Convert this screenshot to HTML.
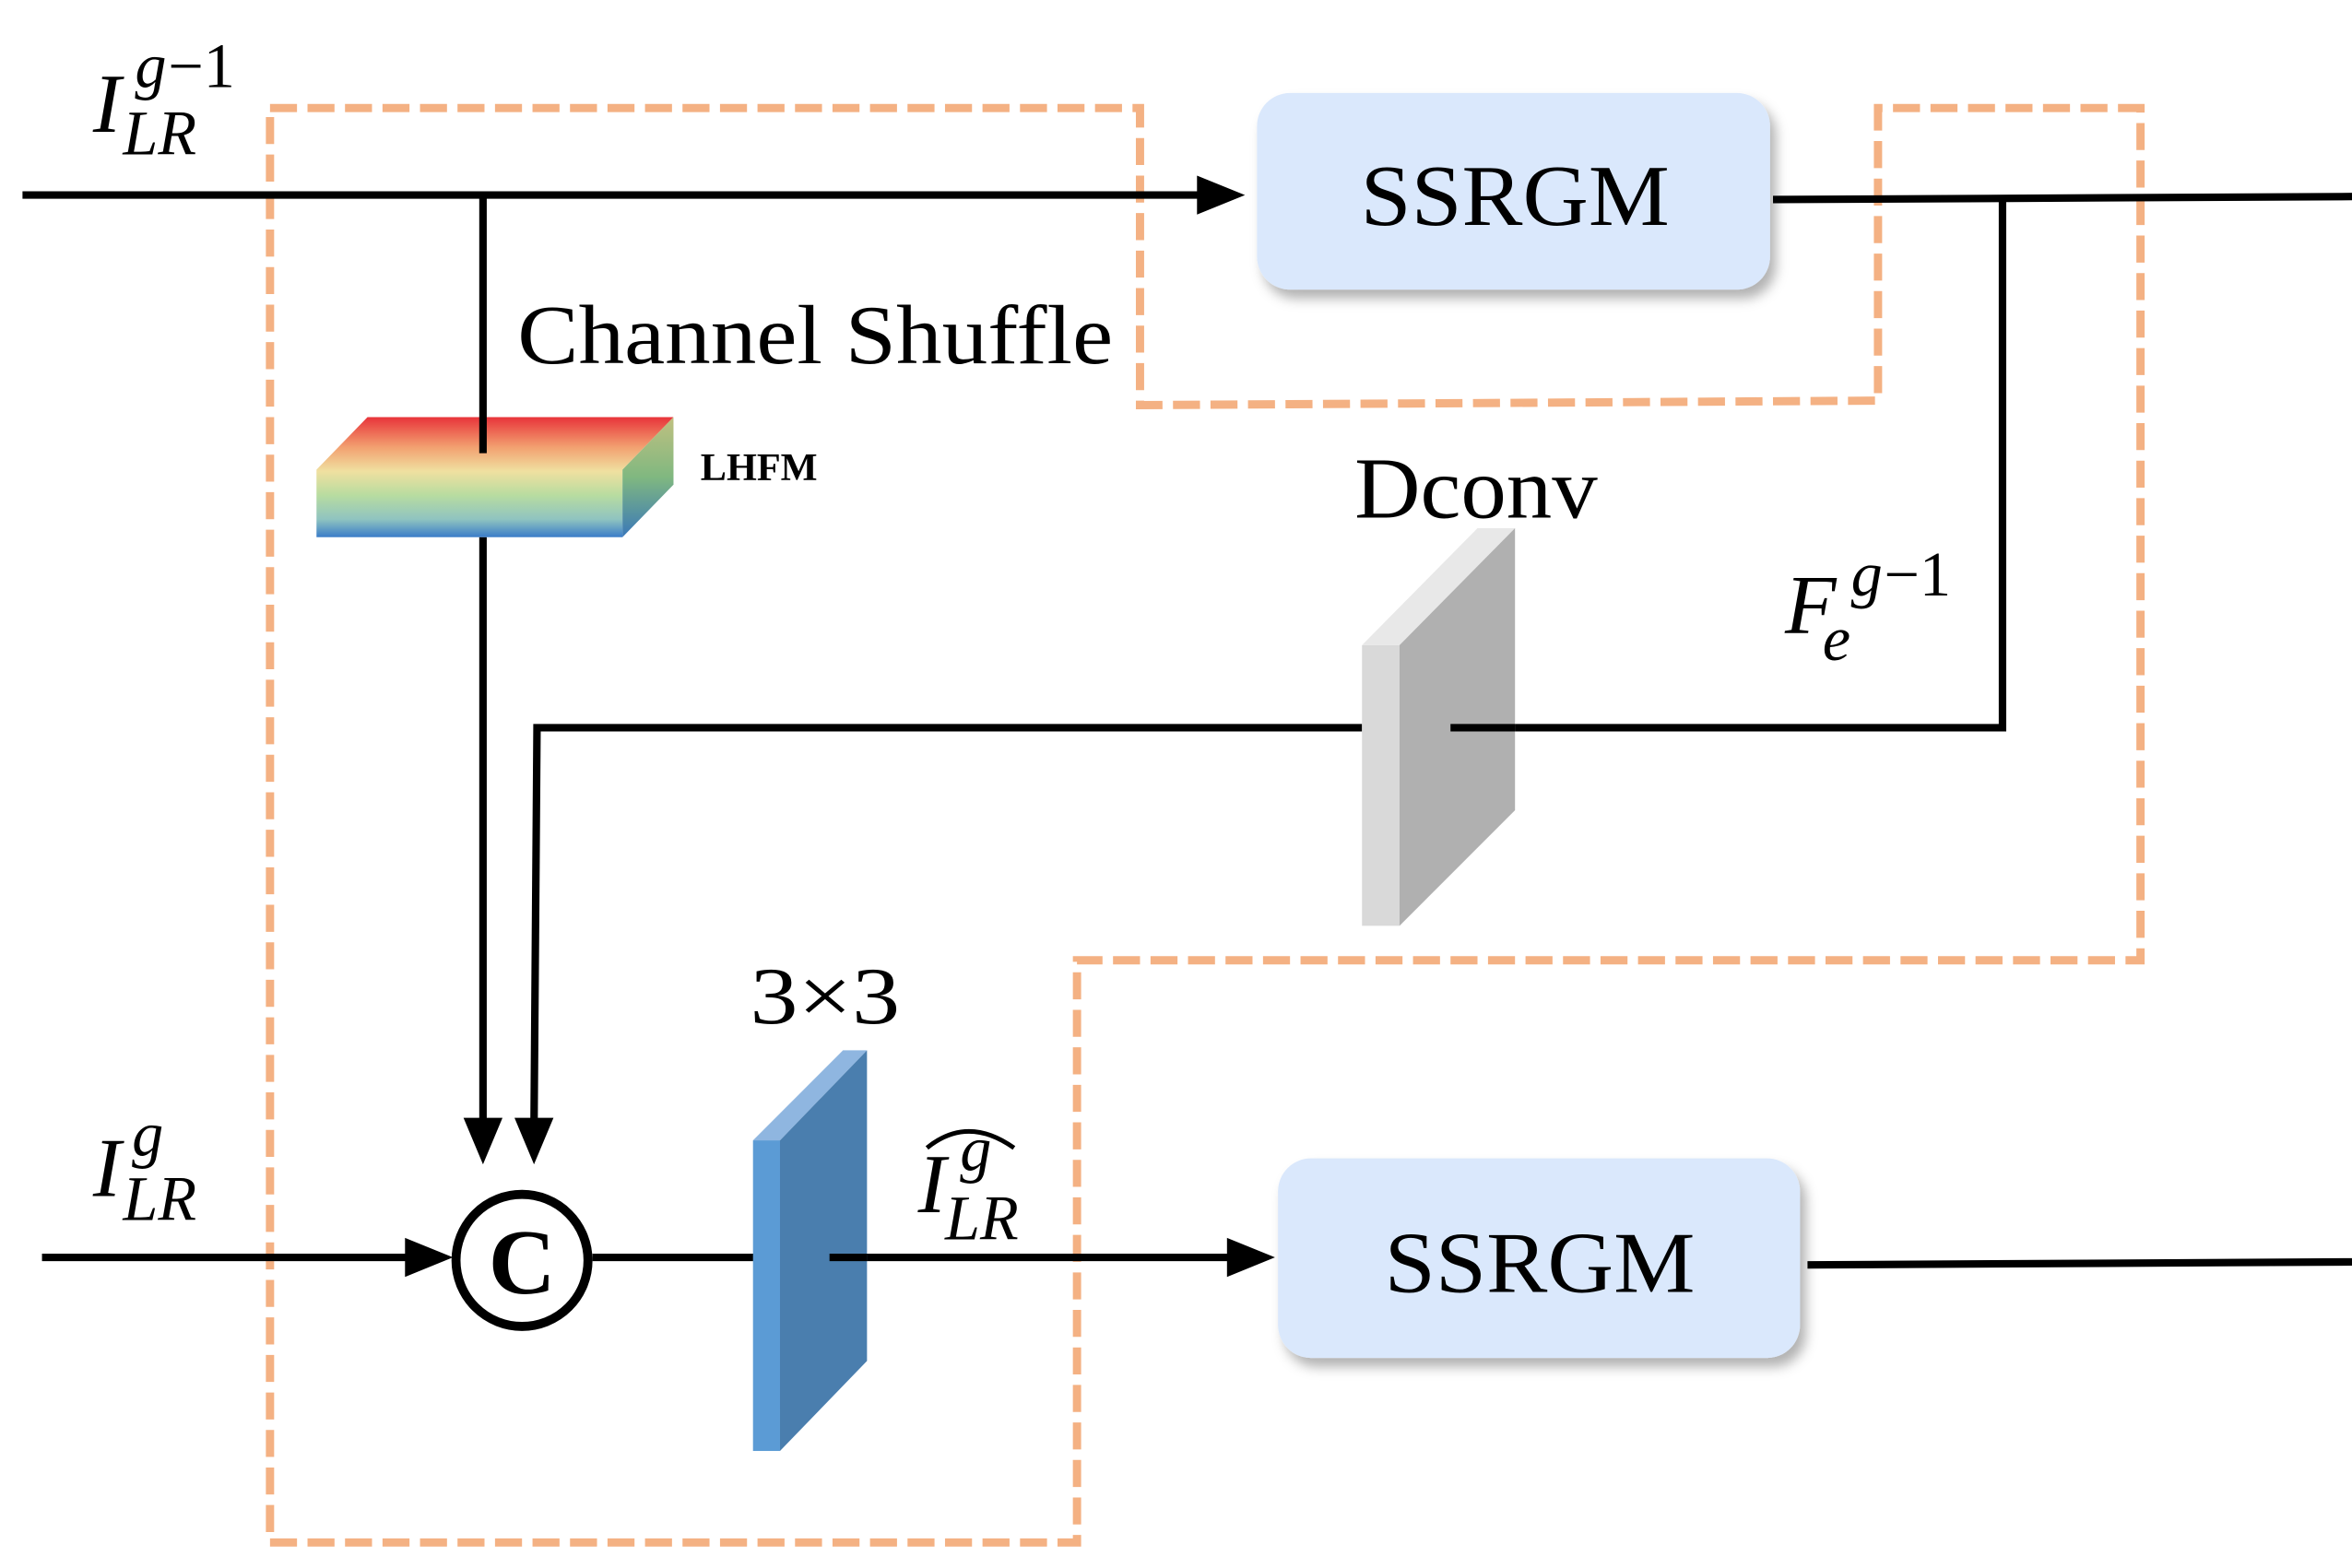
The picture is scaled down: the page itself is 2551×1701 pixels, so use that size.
<!DOCTYPE html>
<html><head><meta charset="utf-8"><style>html,body{margin:0;padding:0;background:#fff}svg{display:block}</style></head>
<body>
<svg width="2551" height="1701" viewBox="0 0 1568 1045" preserveAspectRatio="none" xmlns="http://www.w3.org/2000/svg" font-family="'Liberation Serif', serif">
<defs>
<linearGradient id="rb" gradientUnits="userSpaceOnUse" x1="0" y1="278" x2="0" y2="358">
<stop offset="0" stop-color="#e8343a"/><stop offset="0.25" stop-color="#f2a070"/><stop offset="0.45" stop-color="#f0e0a0"/><stop offset="0.65" stop-color="#b8dca0"/><stop offset="0.85" stop-color="#90c4c0"/><stop offset="1" stop-color="#3a7cc8"/></linearGradient>
<linearGradient id="rbs" gradientUnits="userSpaceOnUse" x1="0" y1="278" x2="0" y2="358">
<stop offset="0" stop-color="#c0c080"/><stop offset="0.5" stop-color="#80b880"/><stop offset="1" stop-color="#3a78b8"/></linearGradient>
<filter id="sh" x="-10%" y="-10%" width="130%" height="140%"><feDropShadow dx="4" dy="6" stdDeviation="4" flood-color="#000" flood-opacity="0.3"/></filter>
</defs>
<polygon points="180,72 760,72 760,270 1252,267 1252,72 1427,72 1427,640 718,640 718,1028 180,1028" fill="none" stroke="#f4b183" stroke-width="5.5" stroke-dasharray="18,7"/>
<g stroke="#000" stroke-width="5" fill="none">
<line x1="15" y1="130" x2="805" y2="130"/>
<line x1="1182" y1="133" x2="1568" y2="131"/>
<polyline points="1335,133 1335,485 967,485"/>
<polyline points="908,485 358,485 356,752"/>
<line x1="322" y1="358" x2="322" y2="752"/>
<line x1="28" y1="838" x2="275" y2="838"/>
<line x1="395" y1="838" x2="503" y2="838"/>
<line x1="553" y1="838" x2="822" y2="838"/>
<line x1="1205" y1="843" x2="1568" y2="841"/>
</g>
<g fill="#000">
<polygon points="798,117 830,130 798,143"/>
<polygon points="309,745 335,745 322,776"/>
<polygon points="343,745 369,745 356,776"/>
<polygon points="270,825 302,838 270,851"/>
<polygon points="818,825 850,838 818,851"/>
</g>
<rect x="838" y="62" width="342" height="131" rx="22" fill="#dae8fc" filter="url(#sh)"/>
<text x="907" y="150" font-size="58" textLength="206" lengthAdjust="spacingAndGlyphs">SSRGM</text>
<rect x="852" y="772" width="348" height="133" rx="22" fill="#dae8fc" filter="url(#sh)"/>
<text x="923" y="861" font-size="58" textLength="207" lengthAdjust="spacingAndGlyphs">SSRGM</text>
<polygon points="211,313 245,278 449,278 415,313" fill="url(#rb)"/>
<rect x="211" y="313" width="204" height="45" fill="url(#rb)"/>
<polygon points="415,313 449,278 449,323 415,358" fill="url(#rbs)"/>
<line x1="322" y1="130" x2="322" y2="302" stroke="#000" stroke-width="5"/>
<text x="467" y="320" font-size="26" font-weight="bold">LHFM</text>
<polygon points="908,430 985,352 1010,352 933,430" fill="#e8e8e8"/>
<rect x="908" y="430" width="25" height="187" fill="#d9d9d9"/>
<polygon points="933,430 1010,352 1010,540 933,617" fill="#b0b0b0"/>
<line x1="967" y1="485" x2="1010" y2="485" stroke="#000" stroke-width="5"/>
<polygon points="502,760 562,700 578,700 520,760" fill="#8fb6e0"/>
<rect x="502" y="760" width="18" height="207" fill="#5b9bd5"/>
<polygon points="520,760 578,700 578,907 520,967" fill="#4a7eae"/>
<line x1="553" y1="838" x2="578" y2="838" stroke="#000" stroke-width="5"/>
<circle cx="348" cy="840" r="44" fill="#fff" stroke="#000" stroke-width="6"/>
<text x="348" y="862" font-size="62" font-weight="bold" text-anchor="middle">C</text>
<text x="345" y="242" font-size="56" textLength="397" lengthAdjust="spacingAndGlyphs">Channel Shuffle</text>
<text x="903" y="345" font-size="58" textLength="162" lengthAdjust="spacingAndGlyphs">Dconv</text>
<text x="500" y="682" font-size="54" textLength="100" lengthAdjust="spacingAndGlyphs">3×3</text>
<g font-style="italic">
<text x="62" y="88" font-size="56">I</text>
<text x="82" y="103" font-size="42">LR</text>
<text x="90" y="58" font-size="42">g</text><text x="112" y="58" font-size="42" font-style="normal">−1</text>
<text x="62" y="797" font-size="56">I</text>
<text x="82" y="813" font-size="42">LR</text>
<text x="88" y="770" font-size="42">g</text>
<text x="612" y="808" font-size="56">I</text>
<text x="630" y="826" font-size="42">LR</text>
<text x="640" y="780" font-size="42">g</text>
<text x="1190" y="422" font-size="56">F</text>
<text x="1215" y="440" font-size="42">e</text>
<text x="1234" y="397" font-size="42">g</text><text x="1256" y="397" font-size="42" font-style="normal">−1</text>
</g>
<path d="M618,765 Q645,743 676,765" fill="none" stroke="#000" stroke-width="3"/>
</svg>
</body></html>
